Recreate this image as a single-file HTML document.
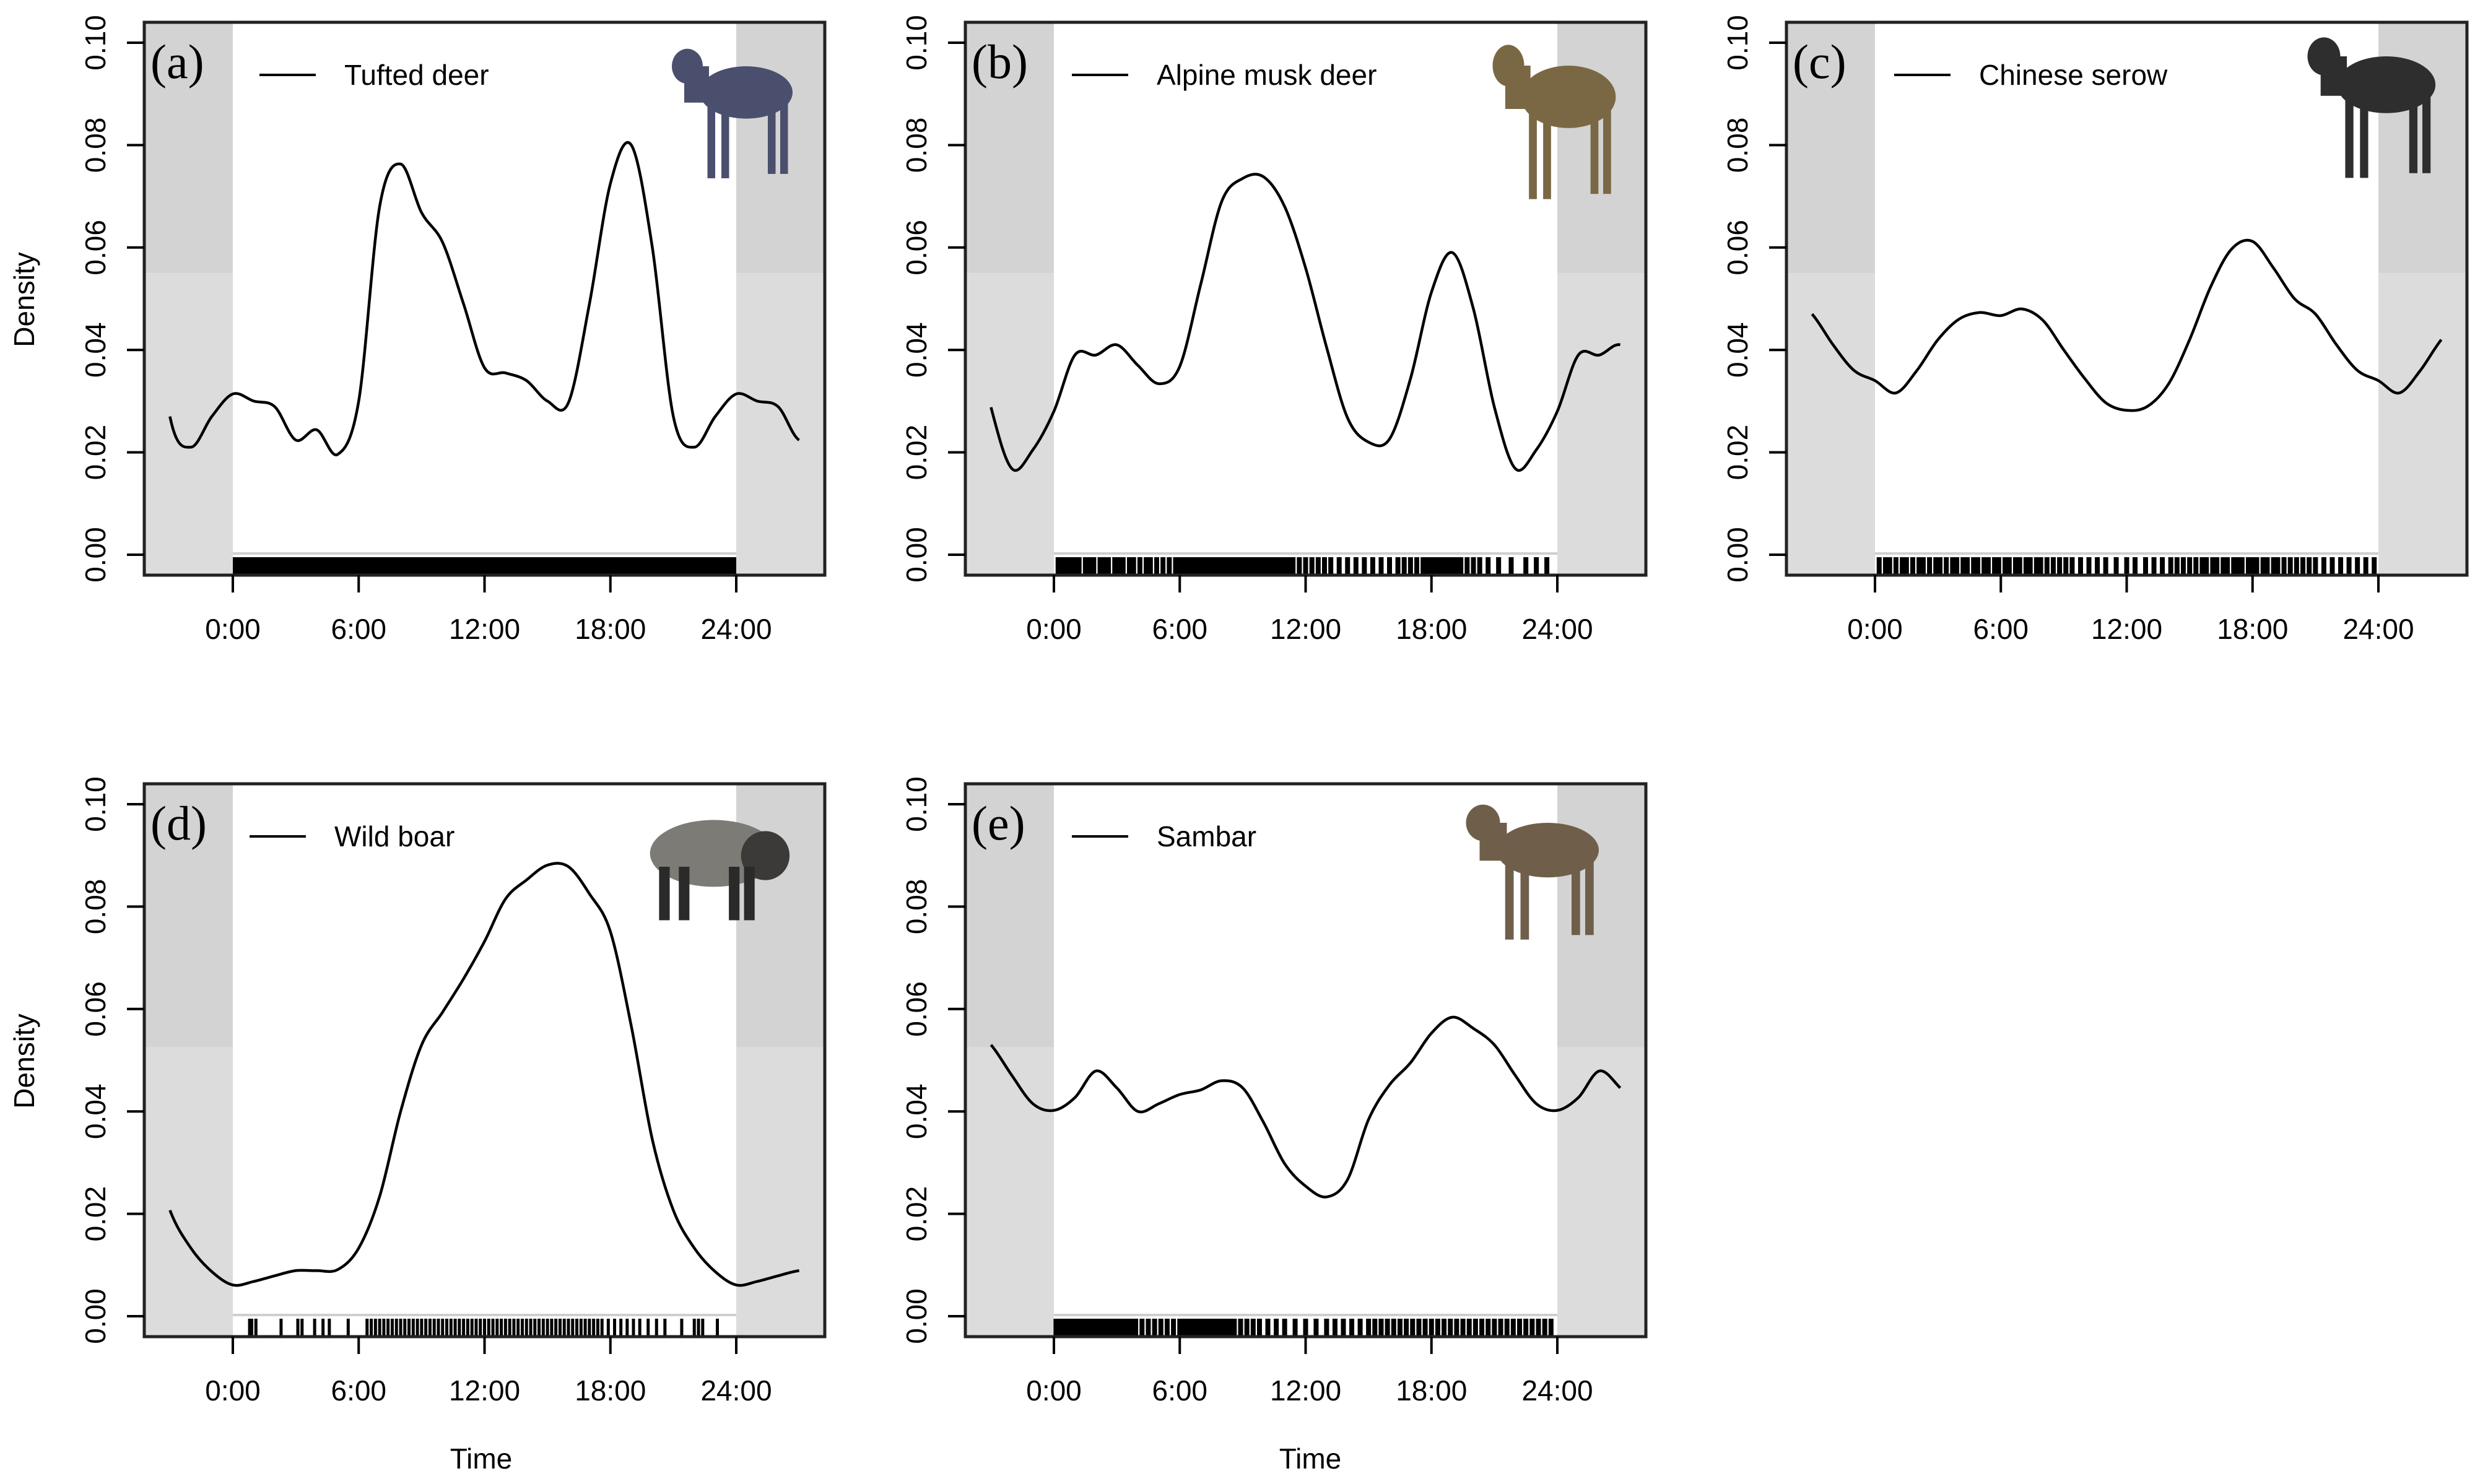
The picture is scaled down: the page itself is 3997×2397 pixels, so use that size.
<!DOCTYPE html>
<html><head><meta charset="utf-8">
<style>
html,body{margin:0;padding:0;background:#fff;}
svg{display:block;}
text{font-family:"Liberation Sans",Arial,sans-serif;}
</style></head>
<body>
<svg id="fig" width="3997" height="2397" viewBox="0 0 3997 2397" xmlns="http://www.w3.org/2000/svg"></svg>
<script>
// ---- data ----
const panelLabels = ["(a)","(b)","(c)","(d)","(e)"];
const speciesNames = ["Tufted deer","Alpine musk deer","Chinese serow","Wild boar","Sambar"];
const yTickValues = [0,0.02,0.04,0.06,0.08,0.10];
const yTickLabels = ["0.00","0.02","0.04","0.06","0.08","0.10"];
const xTickHours = [0,6,12,18,24];
const xTickLabels = ["0:00","6:00","12:00","18:00","24:00"];
// hourly density, hours 0..23 (circular)
const densTufted = [0.0314,0.030,0.0289,0.0224,0.0244,0.0196,0.030,0.068,0.0763,0.0668,0.061,0.049,0.0365,0.0355,0.034,0.030,0.0297,0.049,0.0725,0.0800,0.060,0.027,0.021,0.027];
const densMusk = [0.028,0.039,0.039,0.041,0.037,0.0334,0.0368,0.0528,0.069,0.0735,0.0738,0.068,0.056,0.0405,0.0267,0.022,0.0226,0.0344,0.0513,0.059,0.048,0.0288,0.0168,0.0205];
const densSerow = [0.034,0.0316,0.036,0.042,0.046,0.0473,0.0467,0.048,0.0458,0.040,0.0344,0.0297,0.0282,0.029,0.0334,0.042,0.0523,0.0597,0.0612,0.056,0.050,0.047,0.041,0.036];
const densBoar = [0.0061,0.0068,0.0079,0.0089,0.0089,0.0091,0.0133,0.0234,0.040,0.053,0.0594,0.0659,0.0732,0.0815,0.0852,0.0881,0.0878,0.0825,0.0751,0.0566,0.0345,0.0207,0.0133,0.0087];
const densSambar = [0.0402,0.0427,0.0479,0.0446,0.040,0.0415,0.0433,0.0442,0.046,0.0446,0.0378,0.0298,0.0254,0.0233,0.0267,0.0384,0.0452,0.0495,0.0553,0.0584,0.0562,0.053,0.047,0.0415];
const darkShadeLevel = [0.055,0.055,0.055,0.0525,0.0525];
// rug observation times (hours)
const rugTufted = []; // solid band
const rugMusk = [0.2,0.4,0.6,0.8,1.0,1.2,1.5,1.7,1.9,2.2,2.4,2.6,2.9,3.1,3.3,3.6,3.8,4.1,4.4,4.6,4.9,5.2,5.5,5.8,6.0,6.2,6.4,6.6,6.8,7.0,7.2,7.4,7.6,7.8,8.0,8.2,8.4,8.6,8.8,9.0,9.2,9.4,9.6,9.8,10.0,10.2,10.4,10.6,10.8,11.0,11.2,11.4,11.7,12.0,12.3,12.6,12.9,13.2,13.6,14.0,14.4,14.8,15.2,15.6,16.0,16.4,16.7,17.0,17.3,17.6,17.8,18.0,18.2,18.4,18.6,18.8,19.0,19.2,19.4,19.7,20.0,20.3,20.7,21.2,21.8,22.5,23.0,23.5];
const rugSerow = [0.2,0.5,0.7,1.0,1.3,1.5,1.8,2.1,2.3,2.6,2.9,3.1,3.4,3.7,3.9,4.2,4.4,4.7,4.9,5.2,5.4,5.7,5.9,6.2,6.4,6.7,6.9,7.2,7.4,7.7,7.9,8.2,8.5,8.8,9.1,9.4,9.8,10.2,10.6,11.0,11.5,12.0,12.4,12.9,13.3,13.7,14.1,14.4,14.7,15.0,15.3,15.6,15.8,16.1,16.3,16.6,16.8,17.1,17.3,17.5,17.8,18.0,18.2,18.5,18.7,19.0,19.2,19.5,19.8,20.1,20.4,20.7,21.0,21.4,21.8,22.2,22.6,23.0,23.4,23.8];
const rugBoar = [0.8,0.9,1.1,2.3,3.1,3.3,3.9,4.3,4.6,5.5,6.4,6.6,6.8,7.0,7.2,7.4,7.6,7.8,8.0,8.2,8.4,8.6,8.8,9.0,9.2,9.4,9.6,9.8,10.0,10.2,10.4,10.6,10.8,11.0,11.2,11.4,11.6,11.8,12.0,12.2,12.4,12.6,12.8,13.0,13.2,13.4,13.6,13.8,14.0,14.2,14.4,14.6,14.8,15.0,15.2,15.4,15.6,15.8,16.0,16.2,16.4,16.6,16.8,17.0,17.2,17.4,17.6,17.9,18.2,18.5,18.8,19.1,19.4,19.8,20.2,20.6,21.4,22.0,22.2,22.4,23.1];
const rugSambar = [0.1,0.3,0.5,0.7,0.9,1.1,1.3,1.5,1.7,1.9,2.1,2.3,2.5,2.7,2.9,3.1,3.3,3.5,3.7,3.9,4.2,4.5,4.8,5.1,5.4,5.7,6.0,6.2,6.4,6.6,6.8,7.0,7.2,7.4,7.6,7.8,8.0,8.2,8.4,8.6,8.9,9.2,9.5,9.8,10.2,10.6,11.0,11.5,12.0,12.5,13.0,13.4,13.8,14.2,14.6,15.0,15.3,15.6,15.9,16.2,16.5,16.8,17.1,17.4,17.7,18.0,18.3,18.6,18.9,19.2,19.5,19.8,20.1,20.4,20.7,21.0,21.3,21.6,21.9,22.2,22.5,22.8,23.1,23.4,23.7];

const densities = [densTufted,densMusk,densSerow,densBoar,densSambar];
const rugs = [rugTufted,rugMusk,rugSerow,rugBoar,rugSambar];
const rugWidths = [5,8,8,5,8];
const legendTextX = [556,1868,3196,540,1868];

// ---- drawing ----
const NS="http://www.w3.org/2000/svg";
const svg=document.getElementById('fig');
function mk(tag,attrs,parent){const e=document.createElementNS(NS,tag);for(const k in attrs)e.setAttribute(k,attrs[k]);(parent||svg).appendChild(e);return e;}

const PXH=33.875, PXV=8270;
function panelGeom(i){const col=i%3,row=Math.floor(i/3);const x0=376+1326*col,yz=896+1230*row;
  return {x0,yz,sx:h=>x0+h*PXH,sy:v=>yz-v*PXV,left:x0-143,right:x0+24*PXH+143,top:yz-0.10*PXV-33,bottom:yz+33};}

function valAt(d,h){const n=d.length;return d[((h%n)+n)%n];}

function drawAnimal(i,g){
  const cols=["#4b4f6e","#7a6844","#2e2e2e","#5b5a57","#6f5f4a"];
  const c=cols[i];
  const boxes=[[1060,60,1310,295],[2385,50,2640,330],[3700,40,3965,295],[1035,1310,1280,1490],[2340,1280,2615,1525]];
  const [x1,y1,x2,y2]=boxes[i];const w=x2-x1,h=y2-y1;
  const a=mk('g',{},g);
  
  
  if(i===3){
    mk('ellipse',{cx:x1+w*0.48,cy:y1+h*0.38,rx:w*0.42,ry:h*0.3,fill:"#7d7b76"},a);
    mk('ellipse',{cx:x1+w*0.82,cy:y1+h*0.4,rx:w*0.16,ry:h*0.22,fill:"#3b3a38"},a);
    [[0.12,0.5],[0.25,0.5],[0.58,0.5],[0.68,0.5]].forEach(l=>mk('rect',{x:x1+w*l[0],y:y1+h*l[1],width:w*0.07,height:h*0.48,fill:"#2a2a2a"},a));
  } else {
    mk('ellipse',{cx:x1+w*0.58,cy:y1+h*0.38,rx:w*0.3,ry:h*0.18,fill:c},a);
    mk('ellipse',{cx:x1+w*0.2,cy:y1+h*0.2,rx:w*0.1,ry:h*0.12,fill:c},a);
    mk('rect',{x:x1+w*0.18,y:y1+h*0.2,width:w*0.16,height:h*0.25,fill:c},a);
    [[0.33,0.45],[0.42,0.45],[0.72,0.42],[0.8,0.42]].forEach(l=>mk('rect',{x:x1+w*l[0],y:y1+h*l[1],width:w*0.05,height:h*0.52,fill:c},a));
  }
}

for(let i=0;i<5;i++){
  const G=panelGeom(i);
  const g=mk('g',{});
  
  
  const shadeY=G.sy(darkShadeLevel[i]);
  const sL=mk('rect',{x:G.left,y:G.top,width:G.sx(0)-G.left,height:shadeY-G.top,fill:"#d3d3d3"},g);
  
  const sL2=mk('rect',{x:G.left,y:shadeY,width:G.sx(0)-G.left,height:G.bottom-shadeY,fill:"#dcdcdc"},g);
  
  const sR=mk('rect',{x:G.sx(24),y:G.top,width:G.right-G.sx(24),height:shadeY-G.top,fill:"#d3d3d3"},g);
  
  const sR2=mk('rect',{x:G.sx(24),y:shadeY,width:G.right-G.sx(24),height:G.bottom-shadeY,fill:"#dcdcdc"},g);
  
  const bl=mk('line',{x1:G.sx(0),x2:G.sx(24),y1:G.sy(0)-2,y2:G.sy(0)-2,stroke:"#cfcfcf","stroke-width":4},g);
  
  const rg=mk('g',{},g);
  
  if(rugs[i].length===0){
    mk('rect',{x:G.sx(0),y:G.sy(0)+4,width:24*PXH,height:G.bottom-G.sy(0)-4,fill:"#000"},rg);
  } else {
    rugs[i].forEach(t=>{mk('line',{x1:G.sx(t),x2:G.sx(t),y1:G.sy(0)+4,y2:G.bottom,stroke:"#000","stroke-width":rugWidths[i]},rg);});
  }
  const d=densities[i];const pts=[];
  for(let h=-4;h<=28;h++)pts.push([G.sx(h),G.sy(valAt(d,h))]);
  let p="";
  for(let k=1;k<pts.length-2;k++){
    const P0=pts[k-1],P1=pts[k],P2=pts[k+1],P3=pts[k+2];
    if(k===1)p+="M"+P1[0].toFixed(1)+","+P1[1].toFixed(1);
    const c1=[P1[0]+(P2[0]-P0[0])/6,P1[1]+(P2[1]-P0[1])/6],c2=[P2[0]-(P3[0]-P1[0])/6,P2[1]-(P3[1]-P1[1])/6];
    p+=" C"+c1.map(v=>v.toFixed(1))+" "+c2.map(v=>v.toFixed(1))+" "+P2.map(v=>v.toFixed(1));
  }
  const cu=mk('path',{d:p,fill:"none",stroke:"#000","stroke-width":4.5},g);
  
  const bx=mk('rect',{x:G.left,y:G.top,width:G.right-G.left,height:G.bottom-G.top,fill:"none",stroke:"#222","stroke-width":5},g);
  
  const ya=mk('g',{},g);
  yTickValues.forEach((v,k)=>{const y=G.sy(v);
    mk('line',{x1:G.left-28,x2:G.left,y1:y,y2:y,stroke:"#000","stroke-width":4},ya);
    const t=mk('text',{x:0,y:0,transform:`translate(${G.left-63},${y}) rotate(-90)`,"text-anchor":"middle","font-size":46},ya);
    t.textContent=yTickLabels[k];
    
  });
  const xa=mk('g',{},g);
  xTickHours.forEach((h,k)=>{const x=G.sx(h);
    mk('line',{x1:x,x2:x,y1:G.bottom,y2:G.bottom+28,stroke:"#000","stroke-width":4},xa);
    const t=mk('text',{x:x,y:G.bottom+103,"text-anchor":"middle","font-size":46},xa);
    t.textContent=xTickLabels[k];
    
  });
  const pl=mk('text',{x:G.left+10,y:G.top+90,"font-size":78,style:'font-family:"Liberation Serif",serif'},g);
  pl.textContent=panelLabels[i];
  
  const lg=mk('g',{},g);
  const ly=G.top+85;
  mk('line',{x1:legendTextX[i]-137,x2:legendTextX[i]-46,y1:ly,y2:ly,stroke:"#000","stroke-width":4},lg);
  const lt=mk('text',{x:legendTextX[i],y:ly+16,"font-size":46},lg);lt.textContent=speciesNames[i];
  drawAnimal(i,g);
}
[[41,484],[41,1714]].forEach(([x,y])=>{const t=mk('text',{transform:`translate(${x+14},${y}) rotate(-90)`,"text-anchor":"middle","font-size":46});t.textContent="Density";
  });
[[777,2372],[2116,2372]].forEach(([x,y])=>{const t=mk('text',{x:x,y:y,"text-anchor":"middle","font-size":46});t.textContent="Time";
  });
</script>
</body></html>
